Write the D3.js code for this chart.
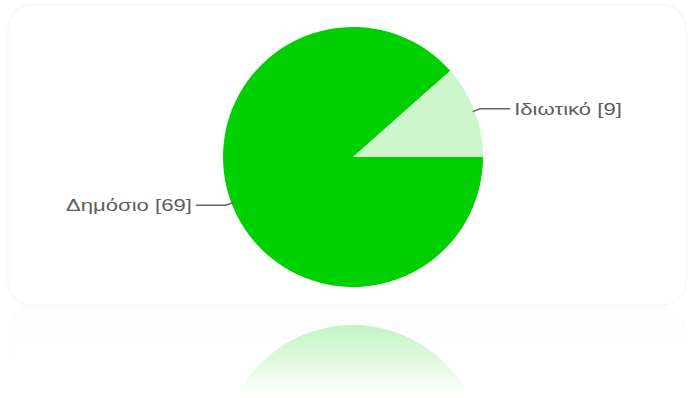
<!DOCTYPE html>
<html>
<head>
<meta charset="utf-8">
<script src="https://cdn.jsdelivr.net/npm/d3@7"></script>
<style>
  html, body { margin: 0; padding: 0; background: #fff; }
  svg { display: block; }
</style>
</head>
<body>
<script>
// Responses: type of school
const categories = ["Δημόσιο", "Ιδιωτικό"];
const counts = [69, 9];
const colors = ["#00cf00", "#ccf5cc"];

const W = 688, H = 398;
const panel = { x: 8, y: 5, w: 678, h: 300, r: 24 };
const cx = 353, cy = 157, R = 130;
const mirrorY = panel.y + panel.h + 1;
const labelStretch = 1.3;

const svg = d3.select("body").append("svg")
  .attr("width", W).attr("height", H);

const defs = svg.append("defs");

const shadow = defs.append("filter").attr("id", "soft")
  .attr("x", "-5%").attr("y", "-5%").attr("width", "110%").attr("height", "110%");
shadow.append("feDropShadow").attr("dx", 0).attr("dy", 0)
  .attr("stdDeviation", 1.5).attr("flood-color", "#000").attr("flood-opacity", 0.04);

// fade used for the reflection below the panel
const fade = defs.append("linearGradient").attr("id", "fade")
  .attr("gradientUnits", "userSpaceOnUse")
  .attr("x1", 0).attr("y1", mirrorY).attr("x2", 0).attr("y2", mirrorY + 90);
fade.append("stop").attr("offset", 0).attr("stop-color", "#fff").attr("stop-opacity", 0.30);
fade.append("stop").attr("offset", 1).attr("stop-color", "#fff").attr("stop-opacity", 0);
defs.append("mask").attr("id", "fadeMask")
  .attr("maskUnits", "userSpaceOnUse")
  .attr("x", 0).attr("y", 0).attr("width", W).attr("height", H)
  .append("rect").attr("x", 0).attr("y", mirrorY).attr("width", W).attr("height", 100)
  .attr("fill", "url(#fade)");

const pie = d3.pie().sort(null)
  .startAngle(Math.PI / 2).endAngle(Math.PI / 2 + 2 * Math.PI)
  .value(d => d);
const arcs = pie(counts);
const arc = d3.arc().innerRadius(0).outerRadius(R);

function drawPanel(g, fill, stroke) {
  g.append("rect")
    .attr("x", panel.x).attr("y", panel.y)
    .attr("width", panel.w).attr("height", panel.h)
    .attr("rx", panel.r).attr("ry", panel.r)
    .attr("fill", fill).attr("stroke", stroke).attr("stroke-width", 1);
}

function drawPie(g, withLabels) {
  const p = g.append("g").attr("transform", `translate(${cx},${cy})`);
  p.selectAll("path").data(arcs).join("path")
    .attr("d", arc)
    .attr("fill", (d, i) => colors[i]);

  if (!withLabels) return;
  arcs.forEach((d, i) => {
    const mid = (d.startAngle + d.endAngle) / 2;
    const sx = Math.sin(mid), sy = -Math.cos(mid);
    const right = sx > 0;
    const p0 = [sx * (R - 2), sy * (R - 2)];
    const p1 = [sx * (R + 6), sy * (R + 6)];
    const p2 = [p1[0] + (right ? 30 : -30), p1[1]];
    p.append("polyline")
      .attr("points", [p0, p1, p2].map(q => q.join(",")).join(" "))
      .attr("fill", "none").attr("stroke", "#666").attr("stroke-width", 1.3);
    p.append("g")
      .attr("transform", `translate(${p2[0] + (right ? 4 : -4)},${p1[1]}) scale(${labelStretch},1)`)
      .append("text")
      .attr("dy", "0.36em")
      .attr("text-anchor", right ? "start" : "end")
      .attr("font-family", "'Liberation Sans', Arial, sans-serif")
      .attr("font-size", 17)
      .attr("fill", "#5e5e5e")
      .text(`${categories[i]} [${counts[i]}]`);
  });
}

// main panel and chart
const main = svg.append("g");
drawPanel(main.append("g").attr("filter", "url(#soft)"), "#fff", "#f5f5f5");
drawPie(main, true);

// mirrored copy below the panel
const refl = svg.append("g").attr("mask", "url(#fadeMask)");
const flip = refl.append("g")
  .attr("transform", `translate(0,${2 * mirrorY}) scale(1,-1)`);
drawPanel(flip, "#f7f7f7", "#f0f0f0");
drawPie(flip, false);
</script>
</body>
</html>
